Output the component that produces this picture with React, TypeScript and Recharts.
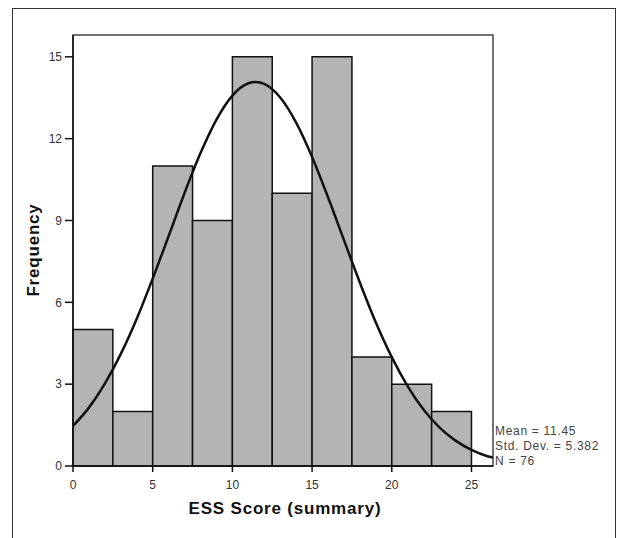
import React from "react";
import {
  ComposedChart,
  Line,
  XAxis,
  YAxis,
  ReferenceArea,
  Label,
} from "recharts";

// histogram bins (ESS score) and their counts
const binEdges = [0, 2.5, 5, 7.5, 10, 12.5, 15, 17.5, 20, 22.5, 25];
const frequencies = [5, 2, 11, 9, 15, 10, 15, 4, 3, 2];

// fitted normal curve
const curveX = [0, 1, 2, 3, 4, 5, 6, 7, 8, 9, 10, 11, 11.45, 12, 13, 14, 15, 16, 17, 18, 19, 20, 21, 22, 23, 24, 25, 26, 26.35];
const curveY = [1.47, 2.14, 3.02, 4.11, 5.4, 6.87, 8.43, 10.01, 11.47, 12.7, 13.58, 14.03, 14.08, 14.01, 13.51, 12.59, 11.33, 9.85, 8.28, 6.72, 5.26, 3.99, 2.92, 2.06, 1.41, 0.93, 0.59, 0.36, 0.31];

const xTicks = [0, 5, 10, 15, 20, 25];
const yTicks = [0, 3, 6, 9, 12, 15];
const statLines = ["Mean = 11.45", "Std. Dev. = 5.382", "N = 76"];

const curveData = curveX.map((x, i) => ({ x, y: curveY[i] }));

const FONT = "'Liberation Sans', Arial, sans-serif";
const X_MAX = 26.35;
const Y_MAX = 15.8;

export default function App() {
  return (
    <div
      style={{
        position: "absolute",
        left: 0,
        top: 0,
        width: 619,
        height: 538,
        background: "#fff",
        overflow: "hidden",
        fontFamily: FONT,
      }}
    >
      {/* outer frame */}
      <div
        style={{
          position: "absolute",
          left: 12,
          top: 8,
          width: 602,
          height: 560,
          border: "1.5px solid #333",
        }}
      />
      <div style={{ position: "absolute", left: 0, top: 0 }}>
        <ComposedChart
          width={619}
          height={538}
          data={curveData}
          margin={{ top: 35, right: 126, bottom: 42, left: 13 }}
        >
          <XAxis
            dataKey="x"
            type="number"
            domain={[0, X_MAX]}
            ticks={xTicks}
            height={30}
            tickSize={6}
            tickMargin={8}
            axisLine={{ stroke: "#111", strokeWidth: 1.5 }}
            tickLine={{ stroke: "#111", strokeWidth: 1.5 }}
            tick={{ fontSize: 12, fill: "#333", fontFamily: FONT }}
            allowDataOverflow
          >
            <Label
              content={() => (
                <g>
                  <text
                    x={285}
                    y={514}
                    textAnchor="middle"
                    fontFamily={FONT}
                    fontWeight="bold"
                    fontSize={17}
                    letterSpacing={0.8}
                    fill="#111"
                  >
                    ESS Score (summary)
                  </text>
                  {statLines.map((s, i) => (
                    <text
                      key={s}
                      x={495}
                      y={435 + i * 15}
                      fontFamily={FONT}
                      fontSize={12}
                      letterSpacing={0.7}
                      fill="#444"
                    >
                      {s}
                    </text>
                  ))}
                </g>
              )}
            />
          </XAxis>
          <YAxis
            type="number"
            domain={[0, Y_MAX]}
            ticks={yTicks}
            width={60}
            tickSize={8}
            tickMargin={3}
            axisLine={{ stroke: "#111", strokeWidth: 1.5 }}
            tickLine={{ stroke: "#111", strokeWidth: 1.5 }}
            tick={{ fontSize: 12, fill: "#333", fontFamily: FONT }}
            allowDataOverflow
          >
            <Label
              content={() => (
                <text
                  x={39}
                  y={250}
                  transform="rotate(-90 39 250)"
                  textAnchor="middle"
                  fontFamily={FONT}
                  fontWeight="bold"
                  fontSize={17}
                  letterSpacing={0.8}
                  fill="#111"
                >
                  Frequency
                </text>
              )}
            />
          </YAxis>

          {/* plot frame */}
          <ReferenceArea
            x1={0}
            x2={X_MAX}
            y1={0}
            y2={Y_MAX}
            fill="none"
            stroke="#444"
            strokeWidth={1.5}
          />

          {frequencies.map((f, i) => (
            <ReferenceArea
              key={i}
              x1={binEdges[i]}
              x2={binEdges[i + 1]}
              y1={0}
              y2={f}
              fill="#b4b4b4"
              fillOpacity={1}
              stroke="#111"
              strokeWidth={1.5}
            />
          ))}

          <Line
            dataKey="y"
            type="monotone"
            stroke="#111"
            strokeWidth={2.5}
            dot={false}
            activeDot={false}
            isAnimationActive={false}
          />
        </ComposedChart>
      </div>
    </div>
  );
}
